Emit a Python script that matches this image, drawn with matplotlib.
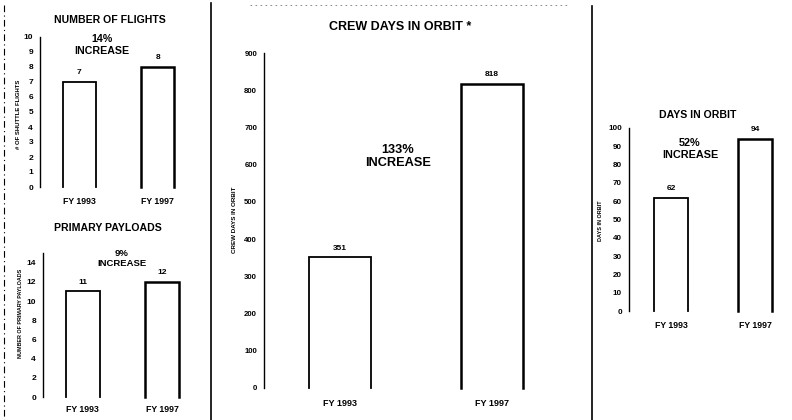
import matplotlib
matplotlib.use("Agg")
import matplotlib.pyplot as plt

plt.rcParams['font.family'] = ['Liberation Sans', 'DejaVu Sans']
plt.rcParams['font.weight'] = 'bold'

W, H = 792, 420

# ---- data ----
years = ["FY 1993", "FY 1997"]

flights = [7, 8]
flights_ticks = list(range(0, 11))

payloads = [11, 12]
payload_ticks = list(range(0, 15, 2))

crew_days = [351, 818]
crew_ticks = list(range(0, 901, 100))

orbit_days = [62, 94]
orbit_ticks = list(range(0, 101, 10))

fig = plt.figure(figsize=(W / 100, H / 100), dpi=100)
fig.patch.set_facecolor('white')


def px_axes(x_axis, spacing, y_zero, y_top):
    """Create axes from pixel positions: y-axis line x, bar spacing, baseline and top."""
    left = x_axis / W
    width = 2 * spacing / W
    bottom = 1 - y_zero / H
    height = (y_zero - y_top) / H
    return fig.add_axes([left, bottom, width, height])


def ftext(x, y, s, size, **kw):
    fig.text(x / W, 1 - y / H, s, fontsize=size, fontweight='bold',
             ha=kw.pop('ha', 'center'), va=kw.pop('va', 'center'), **kw)


def panel(ax, values, ticks, ymax, bar_w, tick_size, val_size, xl_size, xpad):
    ax.set_xlim(-0.5, 1.5)
    ax.set_ylim(0, ymax)
    for s in ['top', 'right', 'bottom']:
        ax.spines[s].set_visible(False)
    ax.spines['left'].set_linewidth(1.0)
    ax.set_yticks(ticks)
    ax.set_yticklabels([str(t) for t in ticks], fontsize=tick_size, fontweight='bold')
    ax.tick_params(axis='y', length=0, pad=5)
    ax.set_xticks([0, 1])
    ax.set_xticklabels(years, fontsize=xl_size, fontweight='bold')
    ax.tick_params(axis='x', length=0, pad=xpad)
    ax.patch.set_alpha(0)
    for i, v in enumerate(values):
        x0, x1 = i - bar_w / 2, i + bar_w / 2
        lw = 1.3 if i == 0 else 1.8
        ax.plot([x0, x0, x1, x1], [0, v, v, 0], color='black', lw=lw,
                solid_joinstyle='miter', clip_on=False)
        ax.annotate(str(v), (i, v), xytext=(0, 4), textcoords='offset points',
                    ha='center', va='bottom', fontsize=val_size, fontweight='bold')


# Number of flights
ax1 = px_axes(40, 78.5, 187, 37)
panel(ax1, flights, flights_ticks, 10, 0.42, 6, 6, 6.3, 7)
ftext(110, 20, "NUMBER OF FLIGHTS", 7.6)
ftext(102, 39, "14%", 7.7)
ftext(102, 51, "INCREASE", 7.7)
ftext(19, 114, "# OF SHUTTLE FLIGHTS", 4.3, rotation=90)

# Primary payloads
ax2 = px_axes(43, 79.5, 397, 253)
panel(ax2, payloads, payload_ticks, 15, 0.43, 6, 6, 6.3, 6)
ftext(108, 228, "PRIMARY PAYLOADS", 7.6)
ftext(122, 253, "9%", 6.8)
ftext(122, 263, "INCREASE", 6.8)
ftext(21, 313, "NUMBER OF PRIMARY PAYLOADS", 3.9, rotation=90)

# Crew days in orbit
ax3 = px_axes(264, 152, 388, 53)
panel(ax3, crew_days, crew_ticks, 900, 0.41, 5.6, 6, 6.5, 8)
ftext(400, 27, "CREW DAYS IN ORBIT *", 9)
ftext(398, 150, "133%", 9.2)
ftext(398, 163, "INCREASE", 9.2)
ftext(235, 220, "CREW DAYS IN ORBIT", 4.5, rotation=90)

# Days in orbit
ax4 = px_axes(629, 84, 311, 128)
panel(ax4, orbit_days, orbit_ticks, 100, 0.40, 5.8, 6, 6.3, 7)
ftext(698, 115, "DAYS IN ORBIT", 7.6)
ftext(690, 143, "52%", 7.8)
ftext(690, 155, "INCREASE", 7.8)
ftext(601, 221, "DAYS IN ORBIT", 4, rotation=90)

# Page dividers between the panels
line_kw = dict(transform=fig.transFigure, color='black', clip_on=False)
fig.add_artist(plt.Line2D([211 / W, 211 / W], [1 - 3 / H, 0], lw=1.2, **line_kw))
fig.add_artist(plt.Line2D([592 / W, 592 / W], [1 - 6 / H, 0], lw=1.2, **line_kw))
fig.add_artist(plt.Line2D([4 / W, 4 / W], [1 - 5 / H, 0], lw=0.8,
                          linestyle=(0, (6, 3, 1, 3)), **line_kw))
fig.add_artist(plt.Line2D([250 / W, 570 / W], [1 - 5 / H, 1 - 5 / H], lw=0.6,
                          color='#777777', linestyle=(0, (2, 4)),
                          transform=fig.transFigure))

fig.savefig("out.png", dpi=100, facecolor='white')
